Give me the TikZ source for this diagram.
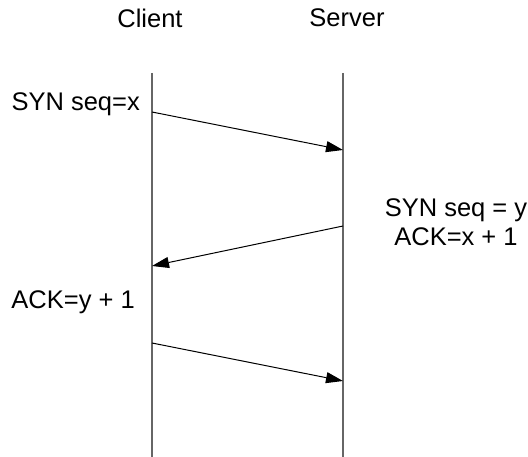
\documentclass[tikz,border=0pt]{standalone}
\usepackage{fontspec}
\setmainfont{Liberation Sans}
\usetikzlibrary{arrows.meta}
\begin{document}
\begin{tikzpicture}[x=1pt,y=-1pt,
  lbl/.style={font=\fontsize{25.5}{29}\selectfont, inner sep=0pt, align=center},
  life/.style={draw=black!60, line width=1.5pt},
  msg/.style={draw=black, line width=1pt, -{Triangle[length=17pt,width=11pt]}}]
  \useasboundingbox (0,0) rectangle (528,457);
  % lifelines
  \coordinate (ctop) at (152,73);
  \coordinate (cbot) at (152,457);
  \coordinate (stop) at (343,73);
  \coordinate (sbot) at (343,457);
  \draw[life] (ctop) -- (cbot);
  \draw[life] (stop) -- (sbot);
  % headers
  \node[lbl] (client) at (150,18) {Client};
  \node[lbl] (server) at (347,18) {Server};
  % message endpoints
  \coordinate (m1a) at (152,112);
  \coordinate (m1b) at (343,150);
  \coordinate (m2a) at (343,226);
  \coordinate (m2b) at (152,266);
  \coordinate (m3a) at (152,343);
  \coordinate (m3b) at (343,381);
  \draw[msg] (m1a) -- (m1b);
  \draw[msg] (m2a) -- (m2b);
  \draw[msg] (m3a) -- (m3b);
  % labels
  \node[lbl, anchor=east] (syn) at (140,104) {SYN seq=x};
  \node[lbl] (synack) at (456,222) {SYN seq = y\\ACK=x + 1};
  \node[lbl, anchor=east] (ack) at (135,302) {ACK=y + 1};
\end{tikzpicture}
\end{document}
